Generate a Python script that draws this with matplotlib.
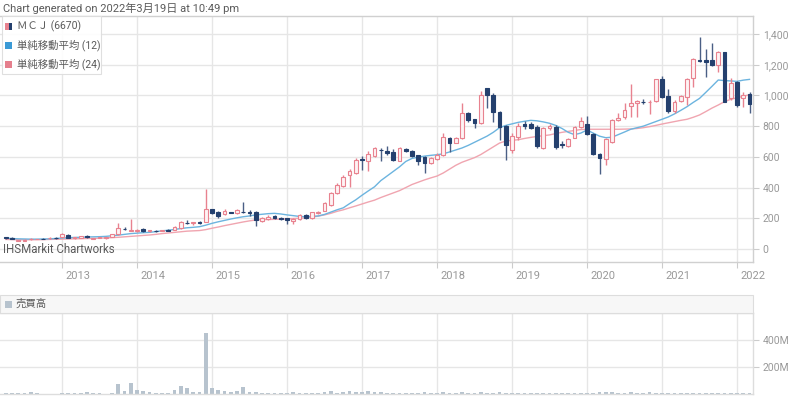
import matplotlib
matplotlib.use("Agg")
import matplotlib.pyplot as plt
import matplotlib.transforms as mtransforms
from matplotlib.patches import Rectangle
import pandas as pd

plt.rcParams['font.family'] = ['Roboto', 'Noto Sans CJK JP', 'DejaVu Sans']

# ---------------- data (monthly, 2012-04 .. 2022-03) ----------------
start_month = '2012-04'
end_month = '2022-03'

opens = [78,74,53,55,63,64,67,69,73,75,
         91,70,74,84,68,72,70,80,95,133,
         120,118,130,117,120,117,124,124,135,172,
         170,174,178,258,243,226,240,232,243,242,
         243,185,193,215,204,200,185,193,221,204,
         232,248,287,363,410,482,497,583,575,608,
         648,640,632,575,654,636,610,600,558,585,
         615,721,693,725,884,845,823,1047,1003,895,
         801,645,732,812,812,797,656,786,797,682,
         671,725,797,812,749,619,584,699,840,858,
         932,953,960,955,966,1105,997,899,966,992,
         1112,1230,1231,1231,1199,1281,981,1090,981,1010]
highs = [80,76,60,62,70,68,69,76,76,102,
         95,80,86,88,72,76,80,97,167,140,
         195,128,134,124,124,123,127,148,180,190,
         178,180,389,262,246,260,244,258,308,254,
         246,210,222,222,210,204,204,225,225,241,
         248,305,370,430,480,519,590,605,640,665,
         660,668,650,662,660,642,615,605,598,625,
         755,728,730,949,894,850,1031,1050,1015,900,
         805,753,820,835,829,805,795,815,805,705,
         722,800,862,866,755,625,720,845,884,949,
         1075,970,975,968,1110,1125,1040,970,1005,1112,
         1245,1379,1301,1344,1290,1285,1112,1092,1025,1025]
lows = [68,62,50,52,60,62,63,66,68,72,
        72,68,72,72,66,70,68,78,92,123,
        115,112,110,113,112,114,117,122,132,160,
        157,162,174,228,204,222,232,230,237,212,
        150,175,190,196,188,160,160,190,195,196,
        225,245,282,358,402,402,490,515,510,598,
        574,615,575,570,635,600,550,493,553,578,
        605,634,688,715,826,786,815,916,829,710,
        580,624,710,780,780,660,650,775,650,660,
        665,725,790,745,615,488,547,690,832,850,
        858,858,945,880,960,985,885,885,960,935,
        1055,1220,1123,1190,1150,955,970,925,925,884]
closes = [72,65,57,59,66,66,65,73,70,95,
          74,77,84,75,70,75,78,95,134,128,
          124,122,114,121,115,121,120,145,178,167,
          176,168,258,237,217,248,235,254,238,237,
          189,200,210,200,193,189,195,221,200,239,
          243,302,367,419,471,510,580,578,619,656,
          643,623,580,656,641,606,575,560,590,612,
          730,688,725,884,840,819,1003,1003,895,797,
          680,736,801,803,790,670,786,799,662,677,
          714,797,834,752,619,595,714,840,856,906,
          953,964,955,960,1105,992,899,960,999,1105,
          1236,1225,1220,1199,1285,960,1084,938,1003,945]
ma12 = [70,68,66,65,64,64,65,66,68,71,
        73,75,76,78,79,80,82,86,90,95,
        100,103,106,108,113,118,122,127,133,138,
        141,145,155,167,177,186,195,203,210,215,
        222,226,230,232,228,222,217,212,210,212,
        215,225,240,255,268,295,320,350,378,405,
        445,475,505,535,570,590,598,605,610,614,
        620,632,645,658,675,695,715,735,760,790,
        805,815,825,832,838,835,828,819,805,785,
        760,745,755,775,755,735,725,728,745,762,
        780,790,800,815,830,845,860,880,903,927,
        955,981,1020,1060,1101,1097,1095,1092,1100,1105]
ma24 = [62,61,60,60,60,60,61,62,63,64,
        65,66,67,68,69,70,72,74,76,79,
        82,85,88,91,95,100,104,108,112,116,
        118,120,126,135,143,152,160,168,176,183,
        189,191,192,193,194,196,198,200,203,208,
        214,222,232,245,255,268,280,293,306,318,
        335,350,365,380,400,420,435,450,463,475,
        495,520,545,565,580,595,615,640,665,690,
        703,708,712,720,727,733,738,743,752,760,
        766,772,778,780,780,780,780,780,780,781,
        782,785,790,797,805,814,822,830,838,845,
        858,873,895,918,938,960,975,985,995,1005]
volume_m = [5,5,4,4,12,4,3,3,3,5,
            5,4,6,17,4,4,3,8,77,25,
            84,32,25,12,7,6,8,32,62,42,
            17,12,450,42,32,25,12,20,50,17,
            17,7,6,6,5,6,15,5,5,6,
            8,15,25,10,12,25,18,12,20,15,
            12,10,8,7,6,6,7,15,6,6,
            15,6,7,15,6,7,15,6,8,15,
            8,5,5,4,5,4,5,5,4,5,
            5,4,5,6,8,14,12,12,6,5,
            12,5,5,12,5,5,6,5,5,6,
            5,6,5,5,6,5,4,5,5,4]
year_labels = ['2013','2014','2015','2016','2017','2018','2019','2020','2021','2022']
price_ticks = [0,200,400,600,800,1000,1200,1400]
volume_ticks = [200e6, 400e6]
volume_tick_labels = ['200M', '400M']

title_text = 'Chart generated on 2022年3月19日 at 10:49 pm'
legend_labels = ['ＭＣＪ (6670)', '単純移動平均 (12)', '単純移動平均 (24)']
volume_label = '売買高'
credit = 'IHSMarkit Chartworks'

# ---------------- styles ----------------
UP_EDGE = '#e8828f'
UP_FACE = '#fef3f4'
DOWN = '#24406e'
DOWN_WICK = '#4a5f85'
MA12_C = '#6cb4df'
MA24_C = '#f0a5b0'
GRID = '#e6e6e6'
VOL_C = '#b7c3ce'
TXT = '#5a5a5a'
TICK_TXT = '#999999'

periods = pd.period_range(start_month, end_month, freq='M')
base = pd.Period('2012-01', freq='M')
x = [(p - base).n for p in periods]
year_pos = [(pd.Period(y + '-01', freq='M') - base).n for y in year_labels]

W, H = 800, 396
fig = plt.figure(figsize=(W / 100, H / 100), dpi=100)

def fx(px):
    return px / W

def fy(py):
    return 1 - py / H

ax = fig.add_axes([0, fy(262), fx(753), (262 - 16) / H])
ax.set_xlim(2.08, 122.56)
ax.set_ylim(-85, 1518)

for xp in year_pos:
    ax.axvline(xp, color=GRID, lw=1, zorder=0)
for yv in price_ticks:
    ax.axhline(yv, color=GRID, lw=1, zorder=0)

# moving averages
ax.plot(x, ma24, color=MA24_C, lw=1.0, zorder=2)
ax.plot(x, ma12, color=MA12_C, lw=1.0, zorder=2)

# candles
up_x, up_lo, up_h, up_wl, up_wh = [], [], [], [], []
dn_x, dn_lo, dn_h, dn_wl, dn_wh = [], [], [], [], []
for xi, o, h, l, c in zip(x, opens, highs, lows, closes):
    if c >= o:
        up_x.append(xi); up_lo.append(o); up_h.append(max(c - o, 2)); up_wl.append(l); up_wh.append(h)
    else:
        dn_x.append(xi); dn_lo.append(c); dn_h.append(max(o - c, 2)); dn_wl.append(l); dn_wh.append(h)

ax.vlines(up_x, up_wl, up_wh, colors=UP_EDGE, lw=1, zorder=3)
ax.vlines(dn_x, dn_wl, dn_wh, colors=DOWN_WICK, lw=1, zorder=3)
ax.bar(up_x, up_h, bottom=up_lo, width=0.62, facecolor=UP_FACE, edgecolor=UP_EDGE, lw=0.8, zorder=4)
ax.bar(dn_x, dn_h, bottom=dn_lo, width=0.62, facecolor=DOWN, edgecolor=DOWN, lw=0.8, zorder=4)

ax.yaxis.tick_right()
ax.set_yticks(price_ticks)
ax.set_yticklabels([f'{v:,}' for v in price_ticks])
ax.tick_params(axis='y', length=4, color='#cccccc', labelcolor=TICK_TXT, labelsize=7.5, pad=3)
ax.set_xticks(year_pos)
ax.set_xticklabels([])
ax.tick_params(axis='x', length=4, color='#cccccc')
for s in ax.spines.values():
    s.set_color('#d0d0d0')
    s.set_linewidth(1)
ax.spines['left'].set_visible(False)

# year labels, just right of each gridline
blend = mtransforms.blended_transform_factory(ax.transData, ax.transAxes)
off = mtransforms.ScaledTranslation(3 / 100, 0, fig.dpi_scale_trans)
for xp, lab in zip(year_pos, year_labels):
    ax.text(xp, -0.035, lab, transform=blend + off, ha='left', va='top',
            fontsize=8, color=TICK_TXT)

ax.text(0.004, 0.026, credit, transform=ax.transAxes, ha='left', va='bottom',
        fontsize=8.3, color=TXT, zorder=6)

# title
fig.text(fx(3), fy(8), title_text, ha='left', va='center', fontsize=8, color=TXT)

# legend box
fig.add_artist(Rectangle((fx(2), fy(74)), fx(99), (74 - 16) / H, transform=fig.transFigure,
                         facecolor='white', edgecolor='#dddddd', lw=0.8, alpha=0.92, zorder=5))
leg_y = [26, 45, 64]
sq = 7
# first icon: half pink half navy
fig.add_artist(Rectangle((fx(5), fy(leg_y[0] + sq / 2)), fx(sq / 2), sq / H, transform=fig.transFigure,
                         facecolor=UP_EDGE, edgecolor='none', zorder=6))
fig.add_artist(Rectangle((fx(5 + sq / 2), fy(leg_y[0] + sq / 2)), fx(sq / 2), sq / H, transform=fig.transFigure,
                         facecolor=DOWN, edgecolor='none', zorder=6))
for yy, col in zip(leg_y[1:], ['#3b9ad6', '#e57f8d']):
    fig.add_artist(Rectangle((fx(5), fy(yy + sq / 2)), fx(sq), sq / H, transform=fig.transFigure,
                             facecolor=col, edgecolor='none', zorder=6))
for yy, lab in zip(leg_y, legend_labels):
    fig.text(fx(17), fy(yy), lab, ha='left', va='center', fontsize=7.5, color=TXT, zorder=7)

# volume header
fig.add_artist(Rectangle((0, fy(313)), fx(753), (313 - 295) / H, transform=fig.transFigure,
                         facecolor='#f7f7f7', edgecolor='#dddddd', lw=0.8, zorder=1))
fig.add_artist(Rectangle((fx(5), fy(307.5)), fx(7), 7 / H, transform=fig.transFigure,
                         facecolor=VOL_C, edgecolor='none', zorder=2))
fig.text(fx(16), fy(304), volume_label, ha='left', va='center', fontsize=7.5, color=TXT)

# volume axes
axv = fig.add_axes([0, fy(394), fx(753), (394 - 313) / H])
axv.set_xlim(2.08, 122.56)
axv.set_ylim(0, 600e6)
for xp in year_pos:
    axv.axvline(xp, color=GRID, lw=1, zorder=0)
for yv in volume_ticks:
    axv.axhline(yv, color=GRID, lw=1, zorder=0)
axv.bar(x, [v * 1e6 for v in volume_m], width=0.6, color=VOL_C, zorder=2)
axv.yaxis.tick_right()
axv.set_yticks(volume_ticks)
axv.set_yticklabels(volume_tick_labels)
axv.tick_params(axis='y', length=4, color='#cccccc', labelcolor=TICK_TXT, labelsize=7.5, pad=3)
axv.set_xticks([])
for s in axv.spines.values():
    s.set_color('#dddddd')
    s.set_linewidth(1)
axv.spines['left'].set_visible(False)

fig.savefig('out.png', dpi=100)
